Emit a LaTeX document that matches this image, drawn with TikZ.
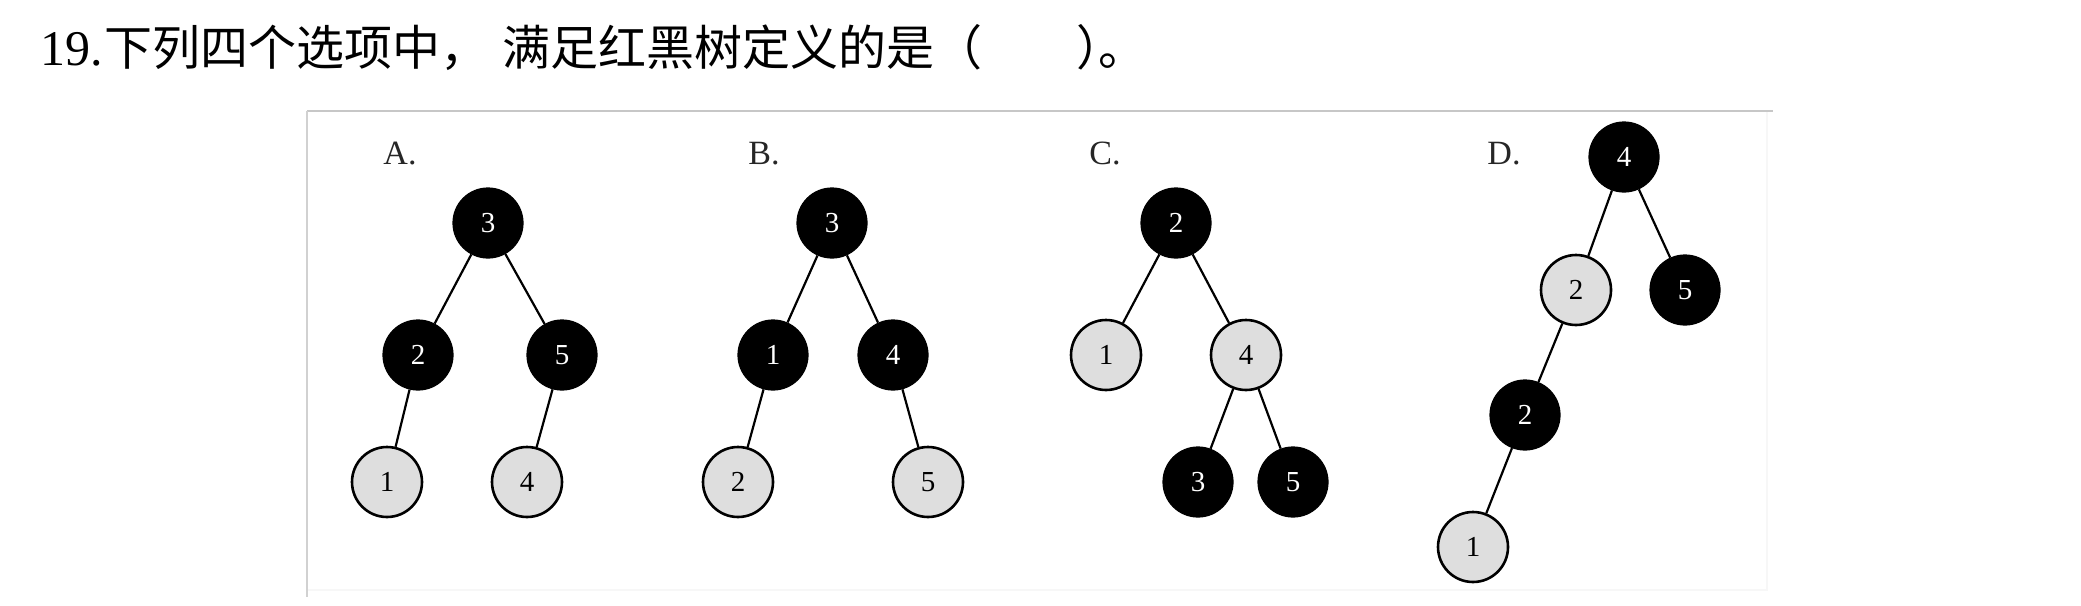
\documentclass[tikz,border=0pt]{standalone}
\usepackage{fontspec}
\setmainfont{Liberation Serif}
\newfontfamily\cjk{Noto Sans CJK SC}
\begin{document}
\begin{tikzpicture}[x=0.5pt,y=-0.5pt,
  rbnode/.style={circle,minimum size=35pt,inner sep=0pt,font=\fontsize{14.5pt}{14.5pt}\selectfont},
  blk/.style={rbnode,fill=black,text=white,draw=black,line width=0.6pt},
  lgt/.style={rbnode,fill=black!13,text=black,draw=black,line width=1.3pt},
  edge/.style={draw=black,line width=1.1pt},
  optlabel/.style={anchor=base,text=black!85,font=\fontsize{17pt}{17pt}\selectfont},
  title/.style={anchor=base west,inner sep=0pt,font=\cjk\fontsize{24pt}{24pt}\selectfont}]
\useasboundingbox (0,0) rectangle (2081,605);
\fill[white] (0,0) rectangle (2081,605);
% frame
\draw[black!3,line width=1pt] (1767,112) -- (1767,590) -- (308,590);
\draw[black!22,line width=1pt] (307,111) -- (1773,111);
\draw[black!18,line width=1pt] (307,111) -- (307,597);
% title
\node[anchor=base west,inner sep=0pt,font=\fontsize{25pt}{25pt}\selectfont] (t0) at (40,65) {19.};
\node[title] (t1) at (104,65) {下列四个选项中，};
\node[title] (t2) at (502,65) {满足红黑树定义的是（};
\node[title] (t3) at (1076,65) {）};
\node[title] (t4) at (1098,65) {。};
% A
\node[optlabel] (la) at (400,164) {A.};
\node[blk] (a3) at (488,223) {3};
\node[blk] (a2) at (418,355) {2};
\node[blk] (a5) at (562,355) {5};
\node[lgt] (a1) at (387,482) {1};
\node[lgt] (a4) at (527,482) {4};
% B
\node[optlabel] (lb) at (764,164) {B.};
\node[blk] (b3) at (832,223) {3};
\node[blk] (b1) at (773,355) {1};
\node[blk] (b4) at (893,355) {4};
\node[lgt] (b2) at (738,482) {2};
\node[lgt] (b5) at (928,482) {5};
% C
\node[optlabel] (lc) at (1105,164) {C.};
\node[blk] (c2) at (1176,223) {2};
\node[lgt] (c1) at (1106,355) {1};
\node[lgt] (c4) at (1246,355) {4};
\node[blk] (c3) at (1198,482) {3};
\node[blk] (c5) at (1293,482) {5};
% D
\node[optlabel] (ld) at (1504,164) {D.};
\node[blk] (d4) at (1624,157) {4};
\node[lgt] (d2) at (1576,290) {2};
\node[blk] (d5) at (1685,290) {5};
\node[blk] (d2b) at (1525,415) {2};
\node[lgt] (d1) at (1473,547) {1};
% edges
\path[edge] (a3) -- (a2) (a3) -- (a5) (a2) -- (a1) (a5) -- (a4);
\path[edge] (b3) -- (b1) (b3) -- (b4) (b1) -- (b2) (b4) -- (b5);
\path[edge] (c2) -- (c1) (c2) -- (c4) (c4) -- (c3) (c4) -- (c5);
\path[edge] (d4) -- (d2) (d4) -- (d5) (d2) -- (d2b) (d2b) -- (d1);
\end{tikzpicture}
\end{document}
